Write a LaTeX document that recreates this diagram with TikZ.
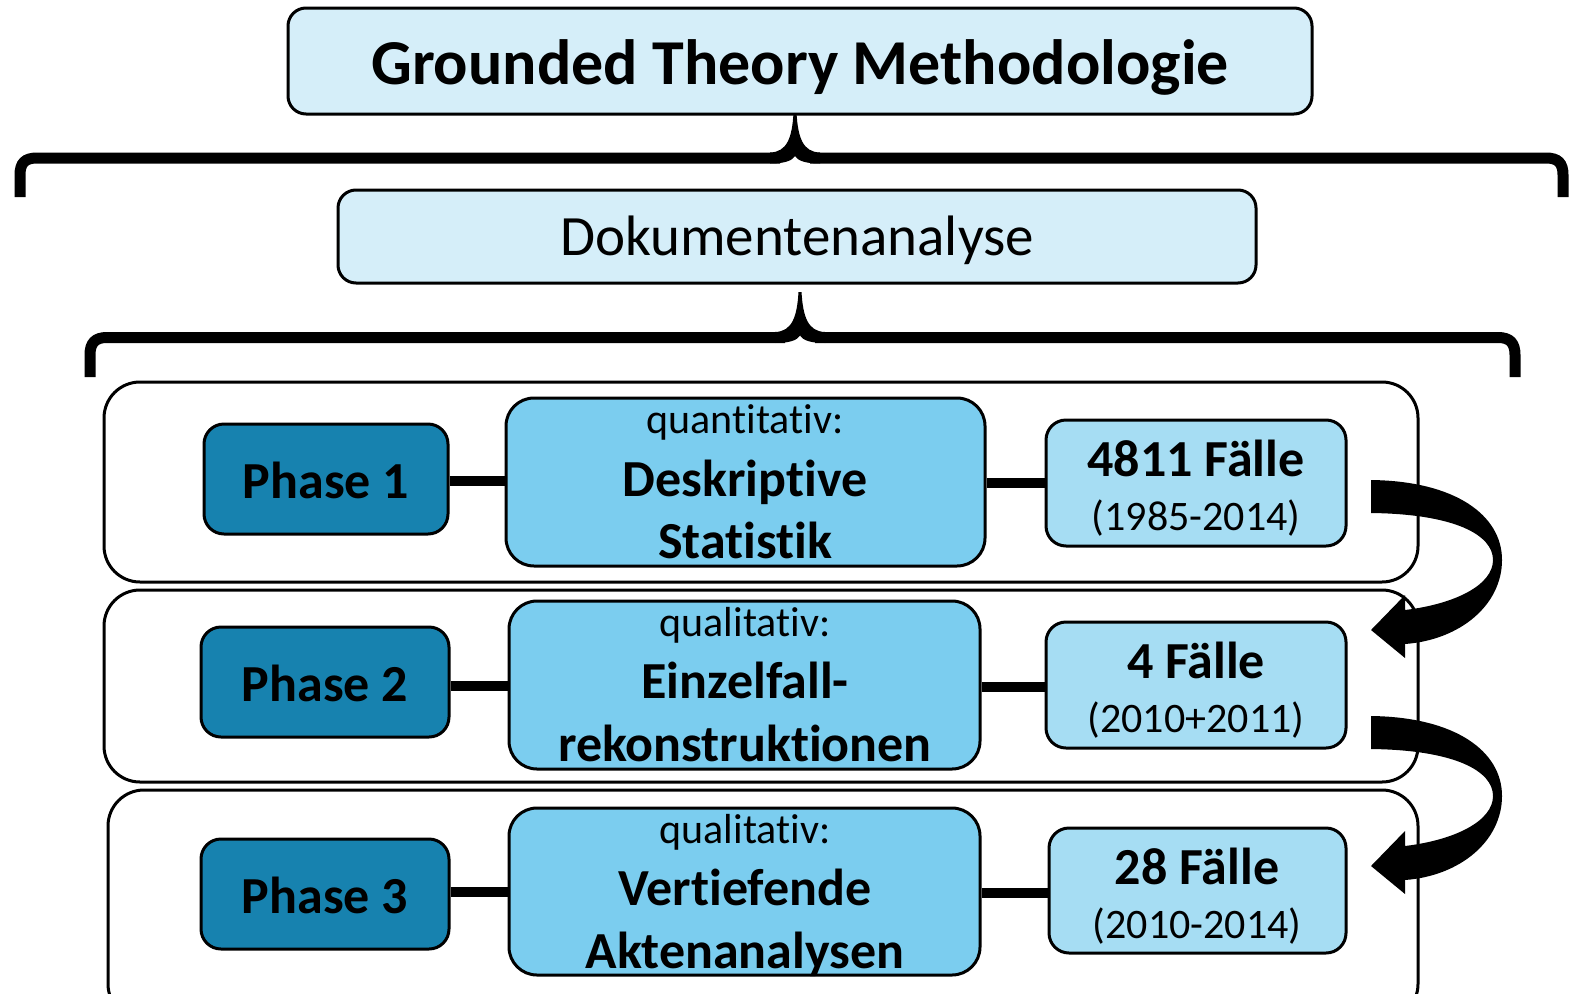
\documentclass[tikz,border=0pt]{standalone}
\usepackage{fontspec}
\setmainfont{Carlito}[Ligatures=NoCommon]
\definecolor{pale}{HTML}{D5EEF9}
\definecolor{phasecol}{HTML}{1782AF}
\definecolor{midcol}{HTML}{7BCDEF}
\definecolor{rightcol}{HTML}{A6DDF3}
\begin{document}
\begin{tikzpicture}[x=1pt,y=-1pt,
  box/.style={draw=black, line width=3pt, inner sep=0pt},
  headbox/.style={box, fill=pale, rounded corners=18pt},
  rowbox/.style={box, fill=white, rounded corners=36pt},
  phasebox/.style={box, fill=phasecol, rounded corners=20pt},
  midbox/.style={box, fill=midcol, rounded corners=28pt},
  rightbox/.style={box, fill=rightcol, rounded corners=20pt},
  link/.style={line width=10pt},
  brace/.style={line width=11pt},
  lbl/.style={anchor=base, inner sep=0pt},
  big/.style={lbl, font=\fontsize{52}{62}\selectfont\bfseries},
  small/.style={lbl, font=\fontsize{42}{48}\selectfont},
  years/.style={lbl, font=\fontsize{42}{48}\selectfont}
]
\useasboundingbox (0,0) rectangle (1570,993);
\clip (0,0) rectangle (1570,993);

% header boxes
\node[headbox, minimum width=1024pt, minimum height=106pt] (title) at (800,61) {};
\node[lbl, font=\fontsize{64}{76}\selectfont\bfseries] (titletext) at (800,84) {Grounded Theory Methodologie};
\node[headbox, minimum width=918pt, minimum height=93pt] (doku) at (797,236.5) {};
\node[lbl, font=\fontsize{57}{66}\selectfont] (dokutext) at (797,255) {Dokumentenanalyse};

% top brace
\draw[brace] (20,197) -- (20,175) .. controls (20,163) and (25,158) .. (37,158) -- (780,158);
\draw[brace] (810,158) -- (1546,158) .. controls (1558,158) and (1563,163) .. (1563,175) -- (1563,197);
\fill (770,152.5) .. controls (787,152) and (792,138) .. (793.5,113) -- (796.5,113)
  .. controls (798,138) and (803,152) .. (820,152.5) -- (820,163.5)
  .. controls (806,163.5) and (798,161) .. (795,156)
  .. controls (792,161) and (784,163.5) .. (770,163.5) -- cycle;

% second brace
\draw[brace] (90,377) -- (90,355) .. controls (90,343) and (95,337.5) .. (107,337.5) -- (785,337.5);
\draw[brace] (815,337.5) -- (1498,337.5) .. controls (1510,337.5) and (1515,343) .. (1515,355) -- (1515,377);
\fill (775,332) .. controls (792,331.5) and (797,317) .. (798.5,292) -- (801.5,292)
  .. controls (803,317) and (808,331.5) .. (825,332) -- (825,343)
  .. controls (811,343) and (803,340.5) .. (800,335.5)
  .. controls (797,340.5) and (789,343) .. (775,343) -- cycle;

% row frames
\node[rowbox, minimum width=1314pt, minimum height=200pt] (row1) at (761,482) {};
\node[rowbox, minimum width=1314pt, minimum height=192pt] (row2) at (761,686) {};
\node[rowbox, minimum width=1310pt, minimum height=230pt] (row3) at (763,905) {};

% row 1
\node[phasebox, minimum width=244pt, minimum height=110pt] (p1) at (326,479) {};
\node[midbox, minimum width=479pt, minimum height=168pt] (m1) at (745.5,482) {};
\node[rightbox, minimum width=300pt, minimum height=126pt] (r1) at (1196,483) {};
\draw[link] (p1.east |- 0,481) -- (m1.west |- 0,481);
\draw[link] (m1.east |- 0,483) -- (r1.west |- 0,483);
\node[big] (p1t) at (326,498) {Phase 1};
\node[small] (m1a) at (745,433) {quantitativ:};
\node[big] (m1b) at (745,496) {Deskriptive};
\node[big] (m1c) at (745,558) {Statistik};
\node[big] (r1a) at (1196,476) {4811 Fälle};
\node[years] (r1b) at (1196,530) {(1985-2014)};

% row 2
\node[phasebox, minimum width=248pt, minimum height=110pt] (p2) at (325,682) {};
\node[midbox, minimum width=471pt, minimum height=168pt] (m2) at (744.5,685) {};
\node[rightbox, minimum width=300pt, minimum height=126pt] (r2) at (1196,685) {};
\draw[link] (p2.east |- 0,686) -- (m2.west |- 0,686);
\draw[link] (m2.east |- 0,687) -- (r2.west |- 0,687);
\node[big] (p2t) at (325,701) {Phase 2};
\node[small] (m2a) at (745,636) {qualitativ:};
\node[big] (m2b) at (745,698) {Einzelfall-};
\node[big] (m2c) at (745,761) {rekonstruktionen};
\node[big] (r2a) at (1196,678) {4 Fälle};
\node[years] (r2b) at (1196,732) {(2010+2011)};

% row 3
\node[phasebox, minimum width=248pt, minimum height=110pt] (p3) at (325,894) {};
\node[midbox, minimum width=471pt, minimum height=167pt] (m3) at (744.5,891.5) {};
\node[rightbox, minimum width=297pt, minimum height=125pt] (r3) at (1197.5,890.5) {};
\draw[link] (p3.east |- 0,892) -- (m3.west |- 0,892);
\draw[link] (m3.east |- 0,893) -- (r3.west |- 0,893);
\node[big] (p3t) at (325,913) {Phase 3};
\node[small] (m3a) at (745,843) {qualitativ:};
\node[big] (m3b) at (745,905) {Vertiefende};
\node[big] (m3c) at (745,968) {Aktenanalysen};
\node[big] (r3a) at (1197,884) {28 Fälle};
\node[years] (r3b) at (1197,938) {(2010-2014)};

% curved block arrows
\foreach \dy in {0,236}{
\begin{scope}[yshift=-\dy pt]
\fill (1371,480) .. controls (1455,481) and (1502,515) .. (1502,560)
  .. controls (1502,605) and (1460,640) .. (1405,644)
  -- (1405,658) -- (1371,630) -- (1405,595) -- (1405,610)
  .. controls (1455,604) and (1493,585) .. (1493,560)
  .. controls (1493,535) and (1455,514) .. (1371,513) -- cycle;
\end{scope}}
\end{tikzpicture}
\end{document}
